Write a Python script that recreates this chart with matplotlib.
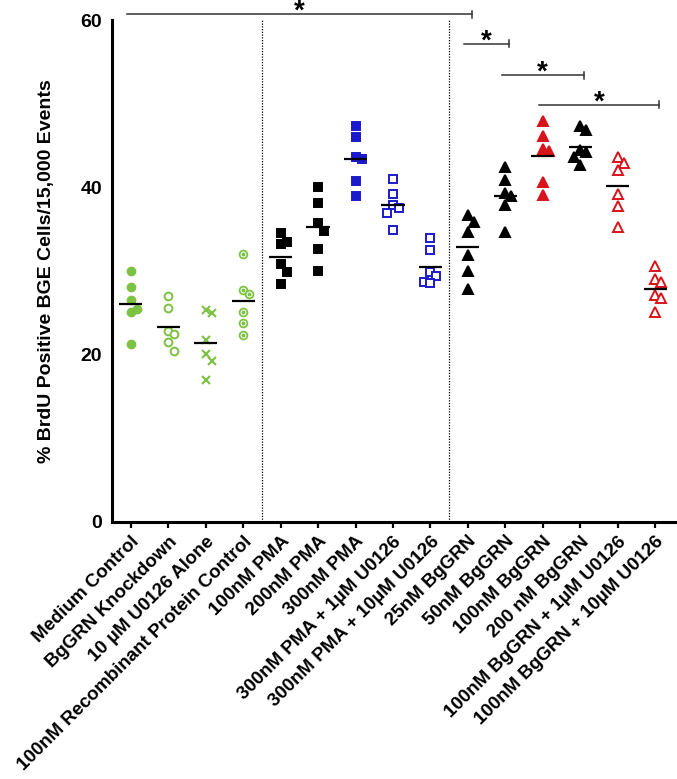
import numpy as np
import matplotlib.pyplot as plt

plt.rcParams['font.family'] = ['Liberation Sans', 'DejaVu Sans']
plt.rcParams['font.weight'] = 'bold'

# groups on the x axis
groups = ["Medium Control", "BgGRN Knockdown", "10 µM U0126 Alone",
          "100nM Recombinant Protein Control", "100nM PMA", "200nM PMA",
          "300nM PMA", "300nM PMA + 1µM U0126", "300nM PMA + 10µM U0126",
          "25nM BgGRN", "50nM BgGRN", "100nM BgGRN", "200 nM BgGRN",
          "100nM BgGRN + 1µM U0126", "100nM BgGRN + 10µM U0126"]

# % BrdU positive cells, six replicates per group
medium_control = [30.0, 28.1, 26.6, 25.5, 25.1, 21.3]
knockdown = [27.0, 25.6, 22.8, 22.5, 21.5, 20.5]
u0126_alone = [25.4, 25.0, 21.8, 20.1, 19.3, 17.0]
recomb_control = [32.0, 27.7, 27.3, 25.1, 23.8, 22.4]
pma_100 = [34.6, 33.5, 33.2, 30.8, 29.9, 28.4]
pma_200 = [40.1, 38.2, 35.7, 34.8, 32.7, 30.0]
pma_300 = [47.3, 46.0, 43.6, 43.4, 40.8, 39.0]
pma_u1 = [41.0, 39.2, 37.9, 37.6, 37.0, 34.9]
pma_u10 = [34.0, 32.5, 29.9, 29.4, 28.7, 28.6]
bggrn_25 = [36.7, 35.9, 34.7, 31.9, 30.0, 27.8]
bggrn_50 = [42.4, 40.9, 39.3, 39.0, 37.9, 34.7]
bggrn_100 = [47.9, 46.2, 44.6, 44.4, 40.7, 39.1]
bggrn_200 = [47.3, 46.9, 44.5, 44.2, 43.6, 42.7]
bggrn_u1 = [43.6, 42.9, 42.1, 39.2, 37.8, 35.3]
bggrn_u10 = [30.6, 29.0, 28.7, 27.1, 26.8, 25.1]

values = [medium_control, knockdown, u0126_alone, recomb_control, pma_100,
          pma_200, pma_300, pma_u1, pma_u10, bggrn_25, bggrn_50, bggrn_100,
          bggrn_200, bggrn_u1, bggrn_u10]

# significance comparisons (group numbers, 1-based) and bracket heights
comparisons = [(1, 10), (10, 11), (11, 13), (12, 15)]
bracket_y = [60.7, 57.2, 53.4, 49.9]

green = '#7dc242'
blue = '#1a1acc'
red = '#d7141a'
# marker, colour, filled
styles = [('o', green, True), ('o', green, False), ('x', green, True),
          ('dot', green, False), ('s', 'black', True), ('s', 'black', True),
          ('s', blue, True), ('s', blue, False), ('s', blue, False),
          ('^', 'black', True), ('^', 'black', True), ('^', red, True),
          ('^', 'black', True), ('^', red, False), ('^', red, False)]

fig = plt.figure(figsize=(6.77, 7.79), dpi=100)
ax = fig.add_axes([0.165, 0.33, 0.832, 0.644])
ax.set_xlim(0.49, 15.53)
ax.set_ylim(0, 60)

bb = ax.get_window_extent()
px_y = bb.height / 60


def swarm(vals, step=0.16, size=10.5):
    # spread points sideways when they sit too close in y (Prism-like)
    slots = {}
    offs = []
    for v in vals:
        for k in [0, 1, -1, 2, -2, 3, -3]:
            if all(abs(v - b) * px_y >= size for b in slots.get(k, [])):
                break
        slots.setdefault(k, []).append(v)
        offs.append(k * step)
    return np.array(offs)


for i, (vals, (mk, col, filled)) in enumerate(zip(values, styles), start=1):
    xs = i + swarm(vals)
    if mk == 'dot':
        ax.plot(xs, vals, 'o', ms=5.6, mfc='white', mec=col, mew=1.3, ls='none')
        ax.plot(xs, vals, 'o', ms=1.8, color=col, ls='none')
    elif mk == 'x':
        ax.plot(xs, vals, 'x', ms=5.5, color=col, mew=1.5, ls='none')
    else:
        ms = {'o': 5.6, 's': 5.8, '^': 7.0}[mk]
        ax.plot(xs, vals, mk, ms=ms, ls='none',
                mfc=col if filled else 'white', mec=col, mew=1.4)
    m = np.mean(vals)
    ax.hlines(m, i - 0.31, i + 0.31, color='black', lw=1.6, zorder=5)

# dotted separators
for xv in [4.5, 9.5]:
    ax.axvline(xv, color='black', lw=0.9, ls=(0, (1, 1.2)), ymax=1.0)

# significance brackets
for (a, b), yb in zip(comparisons, bracket_y):
    x0, x1 = a - 0.1, b + 0.1
    ax.plot([x0, x1], [yb, yb], color='#333333', lw=1.1, clip_on=False)
    ax.plot([x1, x1], [yb - 0.45, yb + 0.45], color='#333333', lw=1.1, clip_on=False)
    ax.text((x0 + x1) / 2, yb + 0.3, '*', ha='center', va='center',
            fontsize=20, fontweight='bold', clip_on=False)

ax.spines['top'].set_visible(False)
ax.spines['right'].set_visible(False)
ax.spines['left'].set_linewidth(2.2)
ax.spines['bottom'].set_linewidth(2.2)

ax.set_yticks([0, 20, 40, 60])
ax.tick_params(axis='y', length=0, labelsize=14, pad=7)
ax.set_xticks(range(1, 16))
ax.set_xticklabels(groups, rotation=45, ha='right', rotation_mode='anchor',
                   fontsize=13.5)
ax.tick_params(axis='x', length=4, width=1.6, pad=4)
for lab in ax.get_xticklabels() + ax.get_yticklabels():
    lab.set_fontweight('bold')

ax.set_ylabel('% BrdU Positive BGE Cells/15,000 Events', fontsize=14,
              fontweight='bold', labelpad=18)

fig.savefig('out.png', dpi=100)
